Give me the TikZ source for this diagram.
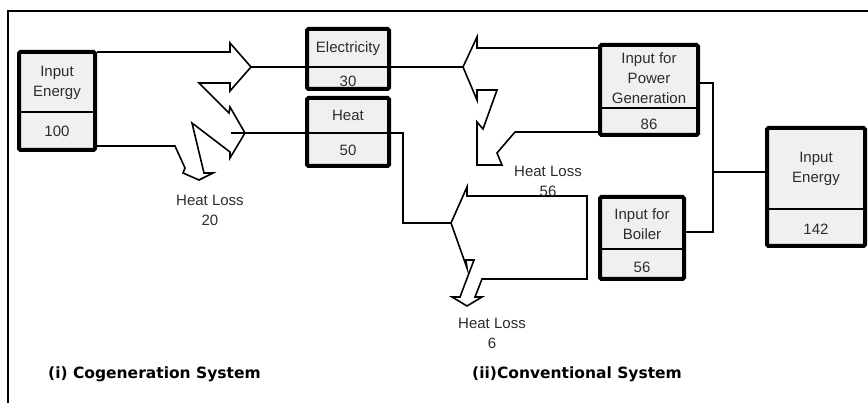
\documentclass[tikz,border=0pt]{standalone}
\usepackage{fontspec}
\setmainfont{Liberation Sans}
\newfontfamily\labelfont{DejaVu Sans}
\usetikzlibrary{calc}
\definecolor{boxfill}{RGB}{240,240,240}
\definecolor{txt}{RGB}{45,45,45}
\begin{document}
\begin{tikzpicture}[x=1pt,y=-1pt,
  font=\fontsize{15}{20}\selectfont, text=txt,
  box/.style={draw=black, line width=4pt, fill=boxfill, rounded corners=1.5pt, inner sep=0pt},
  div/.style={line width=1.1pt, draw=black},
  flow/.style={line width=1.6pt, line join=miter, miter limit=20},
  conn/.style={line width=1.5pt},
  thinconn/.style={line width=1.1pt},
  lbl/.style={align=center, inner sep=0pt},
  captext/.style={anchor=west, inner sep=0pt, text=black, font=\labelfont\bfseries\fontsize{15.5}{18}\selectfont}]
\useasboundingbox (0,0) rectangle (868,403);
\fill[white] (0,0) rectangle (868,403);
% frame
\draw[line width=1.6pt] (8,403) -- (8,11) -- (868,11);

% flow outlines
\draw[flow] (97,52) -- (230,52) -- (230,43) -- (251,67) -- (230,91) -- (230,83) -- (199,83)
  -- (229,113) -- (230,107) -- (245,133) -- (230,158) -- (230,152) -- (192,123)
  -- (204,173) -- (213,173) -- (199,180) -- (183,173) -- (185,168) -- (175,146) -- (97,146);
\draw[flow] (599,48) -- (477,48) -- (477,37) -- (463,67) -- (477,100) -- (477,90) -- (497,90)
  -- (483,129) -- (477,122) -- (477,165) -- (502,165) -- (497,153) -- (515,132) -- (599,132);
\draw[flow] (587,196) -- (467,196) -- (467,187) -- (451,223) -- (467,268) -- (466,260) -- (474,260)
  -- (460,297) -- (452,297) -- (467,306) -- (482,297) -- (475,297) -- (482,279) -- (587,279) -- cycle;

% tips
\coordinate (cgTipA) at (251,67);
\coordinate (cgTipB) at (231,133);
\coordinate (cvTipA) at (463,67);
\coordinate (cvTipB) at (451,223);
\coordinate (heatTurnA) at (403,133);
\coordinate (heatTurnB) at (403,223);

% boxes
\node[box, minimum width=76pt, minimum height=98pt] (inL) at (57,101) {};
\node[box, minimum width=82pt, minimum height=60pt] (elec) at (348,59) {};
\node[box, minimum width=82pt, minimum height=68pt] (heat) at (348,132) {};
\node[box, minimum width=98pt, minimum height=90pt] (power) at (649,90) {};
\node[box, minimum width=84pt, minimum height=82pt] (boiler) at (642,238) {};
\node[box, minimum width=98pt, minimum height=118pt] (inR) at (816,187) {};

% dividers
\draw[div] (inL.west |- 0,112) -- (inL.east |- 0,112);
\draw[div] (power.west |- 0,108) -- (power.east |- 0,108);
\draw[div] (boiler.west |- 0,249) -- (boiler.east |- 0,249);
\draw[div] (inR.west |- 0,209) -- (inR.east |- 0,209);
\draw[div] (elec.west |- cgTipA) -- (elec.east |- cgTipA);
\draw[div] (heat.west |- cgTipB) -- (heat.east |- cgTipB);

% connectors
\draw[conn] (cgTipA) -- (elec.west |- cgTipA);
\draw[conn] (elec.east |- cgTipA) -- (cvTipA);
\draw[conn] (cgTipB) -- (heat.west |- cgTipB);
\draw[thinconn] (heat.east |- cgTipB) -- (heatTurnA) -- (heatTurnB) -- (cvTipB);
\coordinate (pj) at (713,83);
\draw[conn] (power.east |- pj) -- (pj) -- (pj |- 0,232) -- (boiler.east |- 0,232);
\draw[conn] (pj |- 0,172) -- (inR.west |- 0,172);

% texts
\node[lbl] (inLt) at (57,83) {Input\\Energy};
\node[lbl] (inLv) at (57,131) {100};
\node[lbl] (elect) at (348,49) {Electricity};
\node[lbl] (elecv) at (348,81) {30};
\node[lbl] (heatt) at (348,115) {Heat};
\node[lbl] (heatv) at (348,150) {50};
\node[lbl] (powert) at (649,78) {Input for\\Power\\Generation};
\node[lbl] (powerv) at (649,124) {86};
\node[lbl] (boilert) at (642,224) {Input for\\Boiler};
\node[lbl] (boilerv) at (642,267) {56};
\node[lbl] (inRt) at (816,169) {Input\\Energy};
\node[lbl] (inRv) at (816,229) {142};
\node[lbl] (lossA) at (210,210) {Heat Loss\\20};
\node[lbl] (lossB) at (548,181) {Heat Loss\\56};
\node[lbl] (lossC) at (492,333) {Heat Loss\\6};

% captions
\node[captext] (capA) at (48,374) {(i) Cogeneration System};
\node[captext] (capB) at (472,374) {(ii)Conventional System};
\end{tikzpicture}
\end{document}
